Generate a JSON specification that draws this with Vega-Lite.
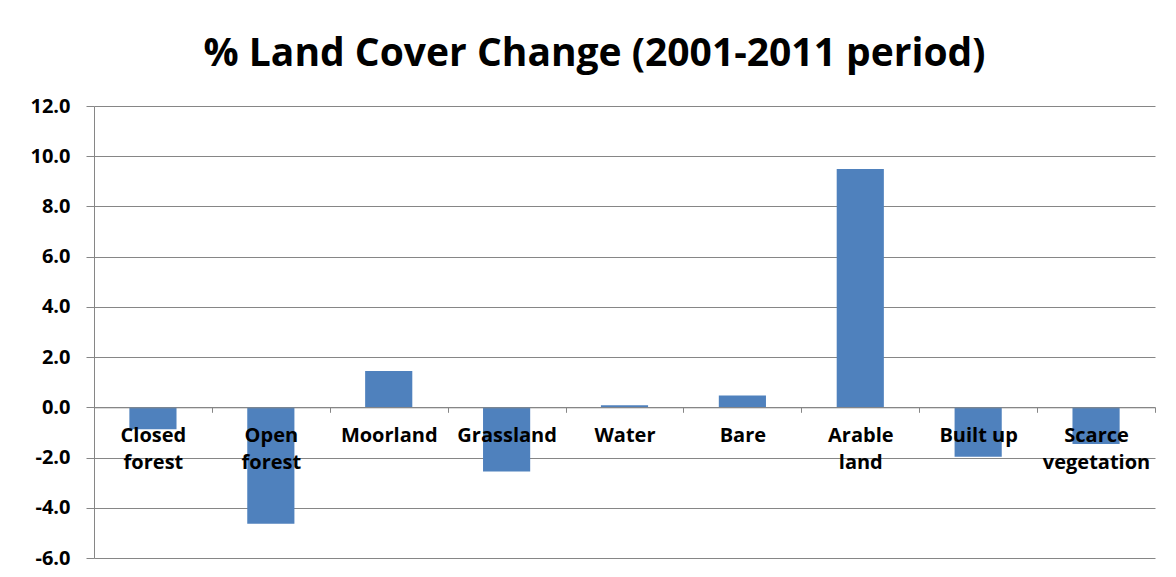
{
  "$schema": "https://vega.github.io/schema/vega-lite/v6.json",
  "width": 1061,
  "height": 452,
  "autosize": {"type": "none"},
  "padding": {"left": 94, "top": 106, "right": 21, "bottom": 19},
  "background": "white",
  "title": {
    "text": "% Land Cover Change (2001-2011 period)",
    "font": "Open Sans",
    "fontSize": 39,
    "fontWeight": "bold",
    "color": "#000000",
    "anchor": "middle",
    "baseline": "alphabetic",
    "dx": -30,
    "dy": 35,
    "offset": 26
  },
  "data": {
    "values": [
      {"cover": "Closed forest", "change": -0.87},
      {"cover": "Open forest", "change": -4.64},
      {"cover": "Moorland", "change": 1.45},
      {"cover": "Grassland", "change": -2.56},
      {"cover": "Water", "change": 0.08},
      {"cover": "Bare", "change": 0.47},
      {"cover": "Arable land", "change": 9.49},
      {"cover": "Built up", "change": -1.97},
      {"cover": "Scarce vegetation", "change": -1.46}
    ]
  },
  "mark": {"type": "bar", "color": "#4F81BD", "width": {"band": 0.4}},
  "encoding": {
    "x": {
      "field": "cover",
      "type": "nominal",
      "sort": null,
      "title": null,
      "scale": {"paddingInner": 0, "paddingOuter": 0},
      "axis": {
        "orient": "bottom",
        "offset": -150.7,
        "zindex": 1,
        "tickBand": "extent",
        "tickSize": 5,
        "tickColor": "#868686",
        "domainColor": "#868686",
        "labelAngle": 0,
        "labelFont": "Open Sans",
        "labelFontSize": 20,
        "labelFontWeight": "bold",
        "labelColor": "#000000",
        "labelPadding": 13,
        "labelLineHeight": 27,
        "labelExpr": "datum.label == 'Built up' ? datum.label : split(datum.label, ' ')"
      }
    },
    "y": {
      "field": "change",
      "type": "quantitative",
      "title": null,
      "scale": {"domain": [-6, 12], "nice": false},
      "axis": {
        "values": [-6, -4, -2, 0, 2, 4, 6, 8, 10, 12],
        "format": ".1f",
        "grid": true,
        "gridColor": "#868686",
        "tickSize": 8,
        "tickColor": "#868686",
        "domainColor": "#868686",
        "labelFont": "Open Sans",
        "labelFontSize": 20,
        "labelFontWeight": "bold",
        "labelColor": "#000000",
        "labelPadding": 16
      }
    }
  },
  "config": {
    "view": {"stroke": null},
    "locale": {
      "number": {"decimal": ".", "thousands": ",", "grouping": [3], "currency": ["$", ""], "minus": "-"}
    }
  }
}
